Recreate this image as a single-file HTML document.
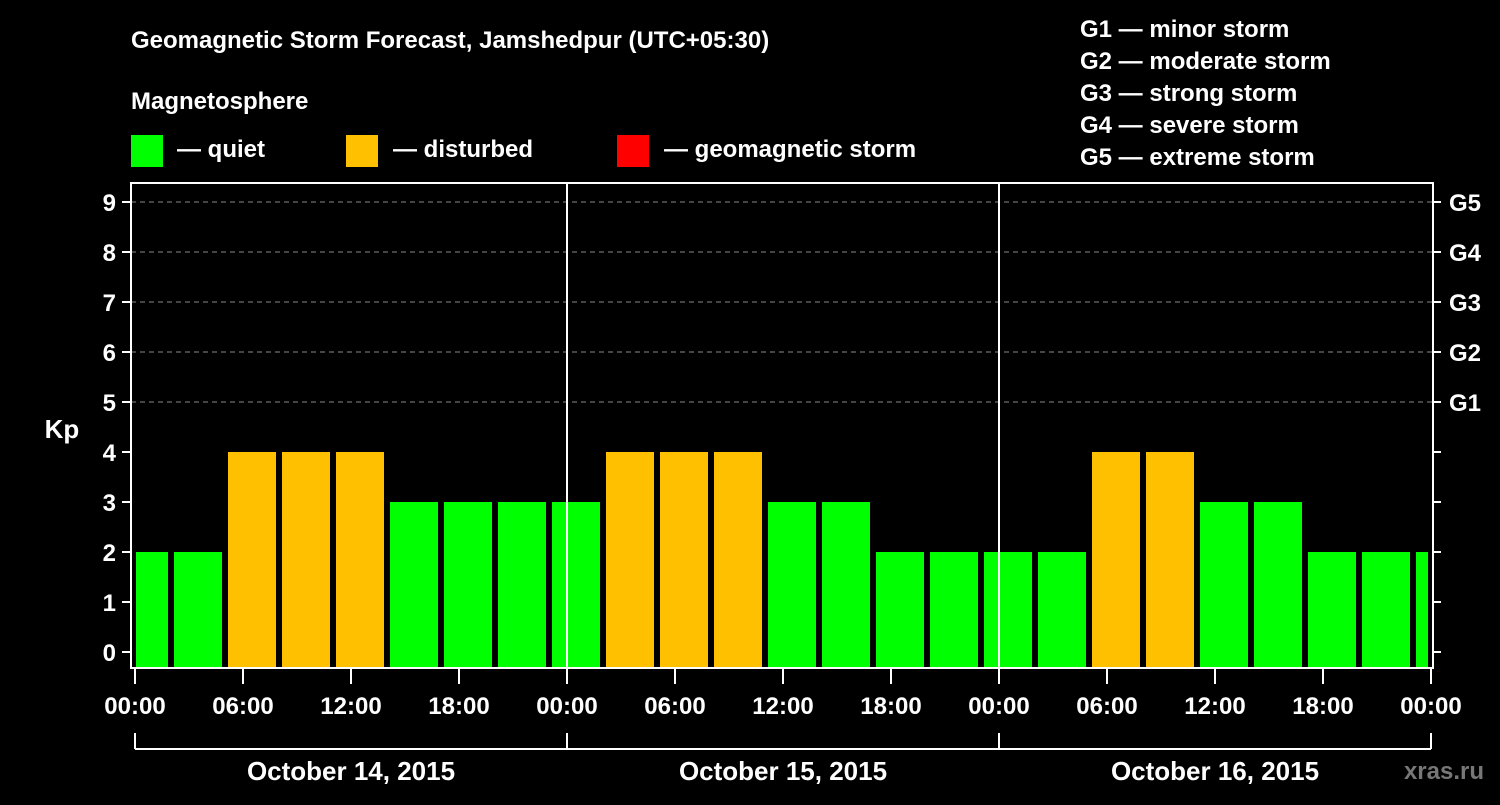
<!DOCTYPE html>
<html><head><meta charset="utf-8"><style>
body{margin:0;background:#000;}
svg text{font-family:"Liberation Sans",sans-serif;font-weight:bold;fill:#fff;}
</style></head><body>
<svg id="chart" width="1500" height="800" viewBox="0 0 1500 800">
<rect width="1500" height="800" fill="#000"/>
<text x="131" y="48" font-size="24">Geomagnetic Storm Forecast, Jamshedpur (UTC+05:30)</text>
<text x="131" y="109" font-size="24">Magnetosphere</text>
<g><rect x="131" y="135" width="32" height="32" fill="#00ff00"/><text x="177" y="157" font-size="24">— quiet</text></g>
<g><rect x="346" y="135" width="32" height="32" fill="#ffc000"/><text x="393" y="157" font-size="24">— disturbed</text></g>
<g><rect x="617" y="135" width="32" height="32" fill="#ff0000"/><text x="664" y="157" font-size="24">— geomagnetic storm</text></g>
<g font-size="24">
<text x="1080" y="37">G1 — minor storm</text>
<text x="1080" y="69">G2 — moderate storm</text>
<text x="1080" y="101">G3 — strong storm</text>
<text x="1080" y="133">G4 — severe storm</text>
<text x="1080" y="165">G5 — extreme storm</text>
</g>
<text x="62" y="438" font-size="26" text-anchor="middle">Kp</text>
<g id="grid"></g><g id="bars"></g><g id="axes"></g>
<text x="1484" y="779" font-size="24" text-anchor="end" fill="#777" style="fill:#777">xras.ru</text>
</svg>
<script>
const slotStartHours=[-1,2,5,8,11,14,17,20,23,26,29,32,35,38,41,44,47,50,53,56,59,62,65,68,71];
const kpValues=[2,2,4,4,4,3,3,3,3,4,4,4,3,3,2,2,2,2,4,4,3,3,2,2,2];
const yTicks=[0,1,2,3,4,5,6,7,8,9];
const gLabels=["G1","G2","G3","G4","G5"];
const xTickLabels=["00:00","06:00","12:00","18:00","00:00","06:00","12:00","18:00","00:00","06:00","12:00","18:00","00:00"];
const dayLabels=["October 14, 2015","October 15, 2015","October 16, 2015"];
const NS="http://www.w3.org/2000/svg";
const L=131,R=1433,T=183,B=668,X0=135,HPX=18;
const x=h=>X0+h*HPX, y=v=>652-50*v;
function mk(tag,attrs,parent,txt){const e=document.createElementNS(NS,tag);for(const k in attrs)e.setAttribute(k,attrs[k]);if(txt!==undefined)e.textContent=txt;document.getElementById(parent).appendChild(e);return e;}
yTicks.forEach(v=>{
 if(v>=5){const g=mk('line',{x1:L,x2:R,y1:y(v),y2:y(v),stroke:'#888','stroke-dasharray':'5,4','stroke-width':1},'grid');
 
 }
 const t=mk('text',{x:116,y:y(v)+9,'font-size':24,'text-anchor':'end'},'axes',String(v));
 
 
 mk('line',{x1:122,x2:L,y1:y(v),y2:y(v),stroke:'#fff','stroke-width':2},'axes');
 mk('line',{x1:R,x2:1441,y1:y(v),y2:y(v),stroke:'#fff','stroke-width':2},'axes');
});
gLabels.forEach((g,i)=>{const t=mk('text',{x:1449,y:y(5+i)+9,'font-size':24},'axes',g);
 
 });
slotStartHours.forEach((h,i)=>{
 let x1=Math.max(x(h)+3,L+5), x2=Math.min(x(h+3)-3,1428);
 const v=kpValues[i];
 const r=mk('rect',{x:x1,y:y(v),width:x2-x1,height:B-y(v),fill:v>=5?'#ff0000':(v>=4?'#ffc000':'#00ff00')},'bars');
 
 
});
[24,48].forEach(h=>mk('line',{x1:x(h),x2:x(h),y1:T,y2:B,stroke:'#fff','stroke-width':2},'axes'));
const f=mk('rect',{x:L,y:T,width:R-L,height:B-T,fill:'none',stroke:'#fff','stroke-width':2},'axes');


xTickLabels.forEach((s,i)=>{const xx=x(i*6);
 mk('line',{x1:xx,x2:xx,y1:B,y2:684,stroke:'#fff','stroke-width':2},'axes');
 const t=mk('text',{x:xx,y:714,'font-size':24,'text-anchor':'middle'},'axes',s);
 
 });
mk('line',{x1:x(0),x2:x(72),y1:749,y2:749,stroke:'#fff','stroke-width':2},'axes');
[0,24,48,72].forEach(h=>mk('line',{x1:x(h),x2:x(h),y1:733,y2:749,stroke:'#fff','stroke-width':2},'axes'));
dayLabels.forEach((s,i)=>{const t=mk('text',{x:x(i*24+12),y:780,'font-size':26,'text-anchor':'middle'},'axes',s);
 
 });
</script>
</body></html>
